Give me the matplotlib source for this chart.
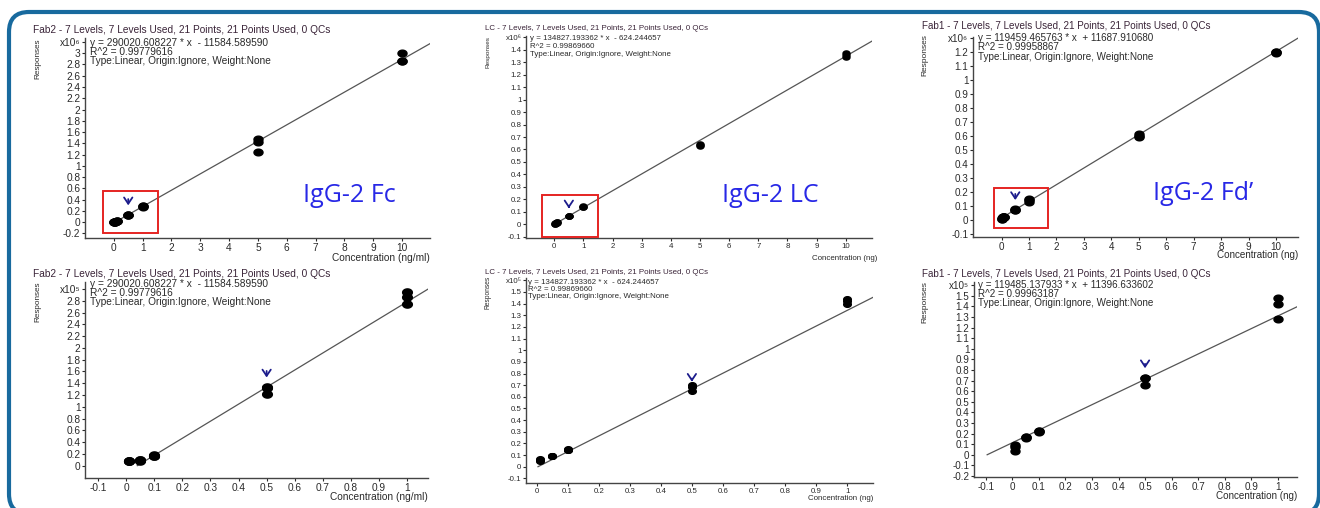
import numpy as np
import matplotlib.pyplot as plt
import matplotlib.patches as mpatches
from matplotlib.path import Path
from matplotlib.transforms import IdentityTransform

plt.rcParams['font.family'] = ['Liberation Sans', 'DejaVu Sans']

W, H = 1320, 508

# concentration levels (3 replicates each)
conc = np.repeat([0.01, 0.05, 0.1, 0.5, 1, 5, 10], 3)

# raw responses
resp_fab2 = [8000, 8000, 7500, 9500, 8500, 9000, 17000, 16000, 18500,
             133000, 132000, 121000, 295000, 287000, 275000,
             1470000, 1430000, 1250000, 3000000, 2870000, 2860000]
resp_lc = [7000, 5000, 5500, 9000, 9500, 9000, 15000, 14500, 14000,
           70000, 68000, 65000, 144000, 142000, 140000,
           635000, 640000, 630000, 1370000, 1360000, 1345000]
resp_fab1 = [9000, 7000, 4000, 16500, 16000, 17000, 22000, 22000, 21500,
             72500, 72000, 66000, 148000, 142000, 128000,
             615000, 600000, 590000, 1205000, 1200000, 1198000]

titles = ["Fab2 - 7 Levels, 7 Levels Used, 21 Points, 21 Points Used, 0 QCs",
          "LC - 7 Levels, 7 Levels Used, 21 Points, 21 Points Used, 0 QCs",
          "Fab1 - 7 Levels, 7 Levels Used, 21 Points, 21 Points Used, 0 QCs"]
slopes_top = [290020.608227, 134827.193362, 119459.465763]
icpt_top = [-11584.589590, -624.244657, 11687.910680]
slopes_bot = [290020.608227, 134827.193362, 119485.137933]
icpt_bot = [-11584.589590, -624.244657, 11396.633602]
r2_top = ["0.99779616", "0.99869660", "0.99958867"]
r2_bot = ["0.99779616", "0.99869660", "0.99963187"]
units = ["(ng/ml)", "(ng)", "(ng)"]
names = ["IgG-2 Fc", "IgG-2 LC", "IgG-2 Fd\u2019"]

fig = plt.figure(figsize=(W / 100, H / 100), dpi=100)


def fx(x):
    return x / W


def fy(y):
    return 1 - y / H


# ellipse marker (wider than tall)
t = np.linspace(0, 2 * np.pi, 40)
ell = Path(np.column_stack([1.35 * np.cos(t), np.sin(t)]), closed=True)

# frame (bottom edge runs just below the picture)
frame = mpatches.FancyBboxPatch((9, -6), 1310, H - 12 + 6,
                                boxstyle="round,pad=0,rounding_size=20",
                                fc='none', ec='#186a9e', lw=3.0,
                                transform=IdentityTransform())
fig.patches.append(frame)

# panel layout: axes box in px, text sizes, positions
panels = [
    # top row
    dict(box=(85, 38, 430, 238), fs=7.3, ylfs=5.9, ms=6.5, data=resp_fab2, scale=1e6,
         xlim=(-1.0, 10.97), ylim=(-0.28, 3.27), yt=(-0.2, 3.2, 0.2), xt=np.arange(0, 11),
         title=(33, 30), eq=(90, 43, 9), ylab=(38, 59), xlab=(430, 258),
         k=0, top=True, arrow=(0.46, 0.25), rect=(-0.37, -0.19, 1.54, 0.547),
         name=(303, 196)),
    dict(box=(526, 36, 872, 238), fs=5.7, ylfs=4.6, ms=5.0, data=resp_lc, scale=1e6,
         xlim=(-0.97, 10.9), ylim=(-0.11, 1.51), yt=(-0.1, 1.5, 0.1), xt=np.arange(0, 11),
         title=(485, 29), eq=(530, 39, 7.5), ylab=(488, 52), xlab=(877, 258),
         k=1, top=True, arrow=(0.17, 0.105), rect=(-0.43, -0.1, 1.51, 0.231),
         name=(722, 196)),
    dict(box=(973, 37, 1298, 237), fs=7.1, ylfs=6.0, ms=6.5, data=resp_fab1, scale=1e6,
         xlim=(-1.04, 10.8), ylim=(-0.125, 1.31), yt=(-0.1, 1.3, 0.1), xt=np.arange(0, 11),
         title=(922, 26), eq=(978, 38, 9.5), ylab=(925, 55), xlab=(1298, 255),
         k=2, top=True, arrow=(0.204, 0.12), rect=(-0.28, -0.064, 1.71, 0.225),
         name=(1153, 194)),
    # bottom row
    dict(box=(85, 282, 428, 478), fs=7.3, ylfs=5.9, ms=7.0, data=resp_fab2, scale=1e5,
         xlim=(-0.146, 1.074), ylim=(-0.21, 3.12), yt=(0, 3.0, 0.2), xt=np.arange(-0.1, 1.05, 0.1),
         title=(33, 274), eq=(90, 284, 9), ylab=(38, 302), xlab=(428, 497),
         k=0, top=False, arrow=(1.656, 1.45), rect=None, name=None),
    dict(box=(526, 278, 873, 483), fs=5.7, ylfs=4.8, ms=5.5, data=resp_lc, scale=1e5,
         xlim=(-0.034, 1.083), ylim=(-0.14, 1.62), yt=(-0.1, 1.6, 0.1), xt=np.arange(0, 1.05, 0.1),
         title=(485, 273), eq=(528, 282, 7.5), ylab=(488, 292), xlab=(873, 498),
         k=1, top=False, arrow=(0.78, 0.705), rect=None, name=None),
    dict(box=(974, 282, 1297, 477), fs=7.1, ylfs=6.0, ms=6.5, data=resp_fab1, scale=1e5,
         xlim=(-0.145, 1.073), ylim=(-0.21, 1.63), yt=(-0.2, 1.6, 0.1), xt=np.arange(-0.1, 1.05, 0.1),
         title=(922, 274), eq=(978, 285, 9.2), ylab=(925, 302), xlab=(1297, 496),
         k=2, top=False, arrow=(0.884, 0.79), rect=None, name=None),
]

txt_col = '#2a2a2a'

for p in panels:
    x0, y0, x1, y1 = p['box']
    ax = fig.add_axes([fx(x0), fy(y1), fx(x1 - x0), (y1 - y0) / H])
    k = p['k']
    y = np.array(p['data']) / p['scale']
    if p['top']:
        a, b, r2 = slopes_top[k], icpt_top[k], r2_top[k]
    else:
        a, b, r2 = slopes_bot[k], icpt_bot[k], r2_bot[k]

    # regression line from its x-intercept to the right edge
    xl = np.array([-b / a, p['xlim'][1]])
    ax.plot(xl, (a * xl + b) / p['scale'], color='#555555', lw=0.9, zorder=2)
    ax.plot(conc, y, ls='none', marker=ell, ms=p['ms'], color='black', zorder=3)

    ax.set_xlim(p['xlim'])
    ax.set_ylim(p['ylim'])
    for s in ['top', 'right']:
        ax.spines[s].set_visible(False)
    for s in ['left', 'bottom']:
        ax.spines[s].set_color('#444444')
        ax.spines[s].set_linewidth(1.0)

    lo, hi, st = p['yt']
    yt = np.round(np.arange(lo, hi + st / 2, st), 2)
    ylabels = ['%g' % v for v in yt]
    ylabels[-1] = 'x10\u2076' if p['top'] else 'x10\u2075'
    ax.set_yticks(yt)
    ax.set_yticklabels(ylabels)
    xt = np.round(p['xt'], 2)
    ax.set_xticks(xt)
    ax.set_xticklabels(['%g' % v for v in xt])
    ax.tick_params(labelsize=p['fs'], colors=txt_col, length=2.5, width=0.8, pad=0.8)
    ax.patch.set_alpha(0)

    fs = p['fs']
    fig.text(fx(p['title'][0]), fy(p['title'][1]), titles[k], fontsize=fs,
             color='#3a2438', va='center', ha='left')
    ex, ey, dy = p['eq']
    sign = '-' if b < 0 else '+'
    lines = ["y = %.6f * x  %s %.6f" % (a, sign, abs(b)),
             "R^2 = " + r2,
             "Type:Linear, Origin:Ignore, Weight:None"]
    for i, ln in enumerate(lines):
        fig.text(fx(ex), fy(ey + i * dy), ln, fontsize=fs, color=txt_col,
                 va='center', ha='left')
    fig.text(fx(p['ylab'][0]), fy(p['ylab'][1]), 'Responses', fontsize=p['ylfs'],
             rotation=90, color=txt_col, va='center', ha='center')
    fig.text(fx(p['xlab'][0]), fy(p['xlab'][1]), 'Concentration ' + units[k],
             fontsize=fs, color=txt_col, va='center', ha='right')

    # arrow above the 0.5 level
    ya, yb = p['arrow']
    ax.annotate('', xy=(0.5, yb), xytext=(0.5, ya),
                arrowprops=dict(arrowstyle='->,head_length=0.45,head_width=0.3',
                                color='#1c1c8c', lw=1.3), annotation_clip=False)
    if p['rect'] is not None:
        rx0, ry0, rx1, ry1 = p['rect']
        ax.add_patch(mpatches.Rectangle((rx0, ry0), rx1 - rx0, ry1 - ry0, fill=False,
                                        ec='#e52421', lw=1.4, clip_on=False, zorder=4))
    if p['name'] is not None:
        fig.text(fx(p['name'][0]), fy(p['name'][1]), names[k], fontsize=18,
                 family=['Open Sans', 'DejaVu Sans'], color='#2828e6',
                 va='center', ha='left')

fig.savefig('out.png', dpi=100)
